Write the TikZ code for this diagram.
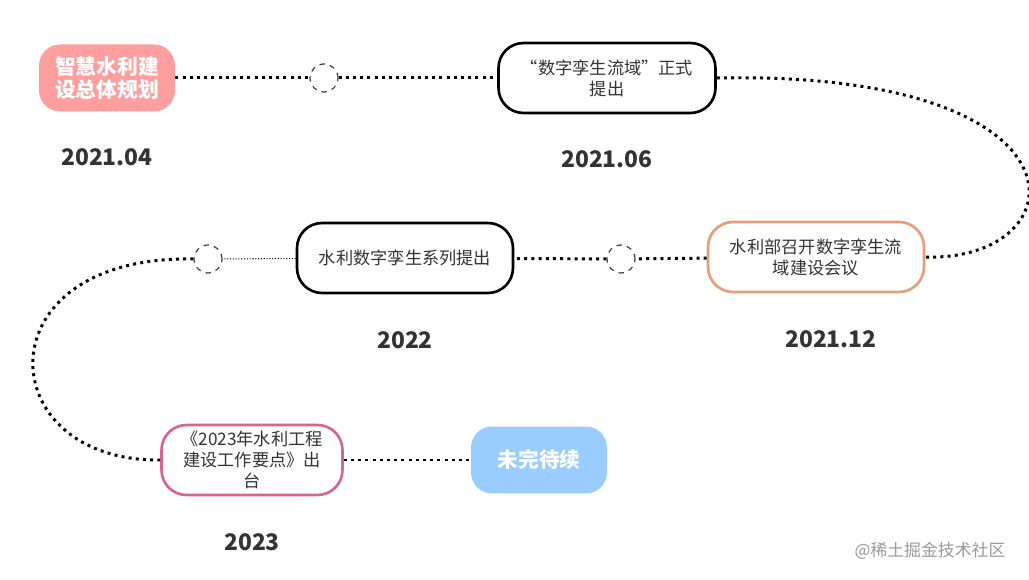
\documentclass[tikz,border=0pt]{standalone}
\usepackage{fontspec}
\setmainfont{Noto Sans CJK SC}
\usepackage{tikz}
\usetikzlibrary{positioning,calc}

\definecolor{plancol}{HTML}{FF9E9E}
\definecolor{meetcol}{HTML}{E89C78}
\definecolor{pointcol}{HTML}{D8668A}
\definecolor{tbccol}{HTML}{99CCFF}
\definecolor{txtcol}{HTML}{333333}

\begin{document}
\begin{tikzpicture}[
    x=0.02cm, y=-0.02cm,
    event/.style={rectangle, draw=black, line width=1.5pt, fill=white, rounded corners=0.5cm, align=center, minimum width=4.34cm, minimum height=1.4cm, font=\fontsize{9.8pt}{12pt}\selectfont, text=txtcol},
    filled/.style={rectangle, rounded corners=0.42cm, align=center, minimum width=2.72cm, minimum height=1.34cm, font=\fontsize{11.8pt}{13.5pt}\selectfont\bfseries, text=white},
    hole/.style={circle, draw=black!75, dashed, line width=0.7pt, fill=white, minimum size=0.56cm, inner sep=0pt},
    date/.style={font=\fontsize{13pt}{15pt}\selectfont\bfseries, text=txtcol},
    track/.style={line width=1.7pt, dash pattern=on 1.7pt off 2.4pt},
    thin track/.style={line width=0.6pt, dash pattern=on 0.6pt off 1pt}
]
\useasboundingbox (0,0) rectangle (1029,580);

% Events
\node[filled, fill=plancol] (plan) at (107,78) {智慧水利建\\设总体规划};
\node[hole] (c1) at (324,78) {};
\node[event] (twin) at (607,78) {“数字孪生流域”正式\\提出};
\node[event, draw=meetcol, minimum width=4.32cm] (meeting) at (816,257) {水利部召开数字孪生流\\域建设会议};
\node[hole] (c2) at (621,259) {};
\node[event, minimum width=4.32cm] (series) at (405,258) {水利数字孪生系列提出};
\node[hole] (c3) at (208,259) {};
\node[event, draw=pointcol, minimum width=3.62cm, inner sep=1pt] (points) at (252,460) {《2023年水利工程\\建设工作要点》出\\台};
\node[filled, fill=tbccol] (tbc) at (539,460) {未完待续};

% Dates
\node[date, below=0.62cm of plan] (d1) {2021.04};
\node[date, below=0.6cm of twin] (d2) {2021.06};
\node[date, below=0.62cm of meeting, xshift=0.3cm] (d3) {2021.12};
\node[date, below=0.62cm of series] (d4) {2022};
\node[date, below=0.62cm of points] (d5) {2023};

% Track
\draw[track] (plan) -- (c1) -- (twin);
\draw[track] (twin.east) .. controls (1100,70) and (1080,262) .. (meeting.east);
\draw[track] (meeting) -- (c2) -- (series);
\draw[thin track] (series) -- (c3);
\draw[track] (c3.west) .. controls (-20,255) and (-10,462) .. (points.west);
\draw[track] (points) -- (tbc);

% Watermark
\node[text=black!40, font=\fontsize{9.6pt}{11pt}\selectfont] (mark) at (930,551) {@稀土掘金技术社区};
\end{tikzpicture}
\end{document}
